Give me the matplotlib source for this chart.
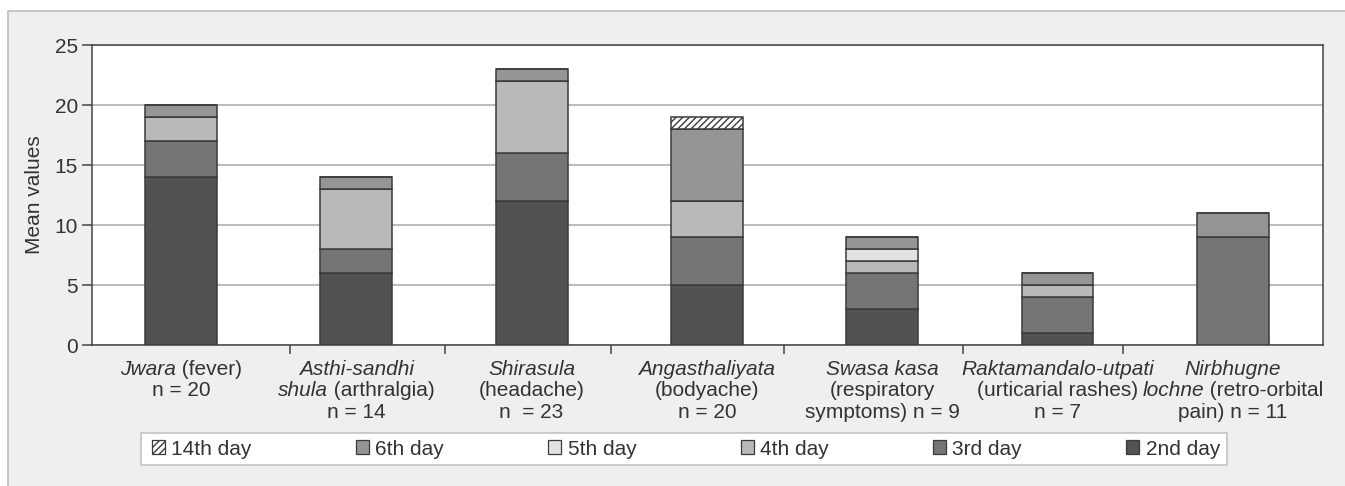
import matplotlib
matplotlib.use('Agg')
import matplotlib.pyplot as plt
import numpy as np
from matplotlib.patches import Patch, Rectangle
from matplotlib.offsetbox import TextArea, HPacker, VPacker, AnnotationBbox

plt.rcParams['font.family'] = ['Liberation Sans', 'DejaVu Sans']
plt.rcParams['hatch.linewidth'] = 1.0

# each label line is a list of (text, italic) pieces
labels = [
    [[('Jwara', True), (' (fever)', False)], [('n = 20', False)]],
    [[('Asthi-sandhi', True)], [('shula', True), (' (arthralgia)', False)], [('n = 14', False)]],
    [[('Shirasula', True)], [('(headache)', False)], [('n  = 23', False)]],
    [[('Angasthaliyata', True)], [('(bodyache)', False)], [('n = 20', False)]],
    [[('Swasa kasa', True)], [('(respiratory', False)], [('symptoms) n = 9', False)]],
    [[('Raktamandalo-utpati', True)], [('(urticarial rashes)', False)], [('n = 7', False)]],
    [[('Nirbhugne', True)], [('lochne', True), (' (retro-orbital', False)], [('pain) n = 11', False)]],
]

series_names = ['2nd day', '3rd day', '4th day', '5th day', '6th day', '14th day']
day2 = [14, 6, 12, 5, 3, 1, 0]
day3 = [3, 2, 4, 4, 3, 3, 9]
day4 = [2, 5, 6, 3, 1, 1, 0]
day5 = [0, 0, 0, 0, 1, 0, 0]
day6 = [1, 1, 1, 6, 1, 1, 2]
day14 = [0, 0, 0, 1, 0, 0, 0]
series = [day2, day3, day4, day5, day6, day14]

# category separators as drawn in the original (not evenly spaced)
sep_ticks = [0.622, 1.506, 2.453, 3.44, 4.461, 5.374]

colors = ['#525254', '#747577', '#b8b9bb', '#e1e2e4', '#949597', 'white']
hatches = [None, None, None, None, None, '/////']
edge = '#3a3a3c'
txt = '#333333'
fs = 15

W, H = 1345, 486
fig = plt.figure(figsize=(W / 100, H / 100), dpi=100, facecolor='white')
fig.patches.append(Rectangle((8 / W, -0.05), 1.1, 1 - 11 / H + 0.05,
                             transform=fig.transFigure, facecolor='#efefef',
                             edgecolor='#bdbdbd', linewidth=1.2, zorder=-10))

ax = fig.add_axes([92 / W, 1 - 345 / H, 1231 / W, 300 / H])
ax.set_facecolor('white')

x = np.arange(len(labels))
bottom = np.zeros(len(labels))
for vals, c, h in zip(series, colors, hatches):
    v = np.array(vals, dtype=float)
    ax.bar(x, v, 0.41, bottom=bottom, color=c, edgecolor=edge, linewidth=1.1,
           hatch=h, zorder=3)
    bottom += v

ax.set_xlim(-0.508, 6.515)
ax.set_ylim(0, 25)
ax.set_yticks([0, 5, 10, 15, 20, 25])
ax.yaxis.grid(True, color='#bcbcbc', linewidth=1.5, zorder=0)
ax.set_axisbelow(True)
ax.set_xticks(sep_ticks)
ax.set_xticklabels([])
ax.tick_params(axis='x', length=6.5, width=1.1, color='#444444', direction='out')
ax.tick_params(axis='y', length=7, width=1.1, color='#444444', labelsize=fs,
               labelcolor=txt, pad=3)
for s in ax.spines.values():
    s.set_color('#444444')
    s.set_linewidth(1.1)

ax.set_ylabel('Mean values', fontsize=fs, color=txt, va='center')
ax.yaxis.set_label_coords(-57 / 1231, 0.5)

# category labels with mixed italic / regular text
for i, lines in enumerate(labels):
    rows = []
    for line in lines:
        parts = [TextArea(t, textprops=dict(fontsize=fs, color=txt,
                                            fontstyle='italic' if it else 'normal'))
                 for t, it in line]
        rows.append(HPacker(children=parts, align='baseline', pad=0, sep=0))
    box = VPacker(children=rows, align='center', pad=0, sep=2.0)
    ab = AnnotationBbox(box, (i, 0), xycoords=('data', 'axes fraction'),
                        xybox=(0, -10.5), boxcoords='offset points',
                        box_alignment=(0.5, 1), frameon=False, pad=0,
                        annotation_clip=False)
    ax.add_artist(ab)

# legend frame drawn separately, entries spread inside it
fig.patches.append(Rectangle((141 / W, 1 - 465 / H), 1086 / W, 32 / H,
                             transform=fig.transFigure, facecolor='white',
                             edgecolor='#c4c4c4', linewidth=1.2, zorder=1))
handles = [Patch(facecolor=c, edgecolor=edge, hatch=h, linewidth=0.9, label=n)
           for c, h, n in zip(colors, hatches, series_names)][::-1]
leg = fig.legend(handles=handles, loc='center left',
                 bbox_to_anchor=(152 / W, 1 - 465 / H, 1068 / W, 32 / H),
                 bbox_transform=fig.transFigure, mode='expand', ncol=6,
                 borderaxespad=0, borderpad=0, frameon=False,
                 handlelength=0.62, handleheight=0.62,
                 handletextpad=0.3, prop=dict(size=fs), labelcolor=txt)

fig.savefig('out.png', dpi=100, facecolor=fig.get_facecolor())
